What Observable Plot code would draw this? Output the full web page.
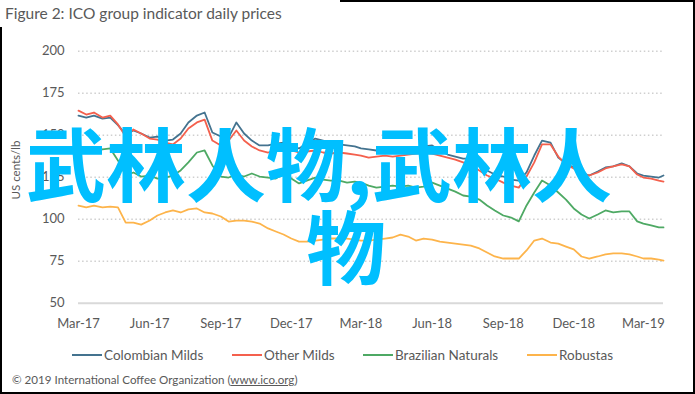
<!DOCTYPE html>
<html>
<head>
<meta charset="utf-8">
<script src="https://cdn.jsdelivr.net/npm/d3@7"></script>
<script src="https://cdn.jsdelivr.net/npm/@observablehq/plot@0.6"></script>
<style>
  html, body { margin: 0; padding: 0; background: #fff; }
  #wrap { position: relative; width: 695px; height: 394px; overflow: hidden; background: #fff; font-family: Lato, "Open Sans", sans-serif; color: #595959; }
  #frame { position: absolute; left: 0; top: 0; width: 695px; height: 394px; border: 2px solid #000; box-sizing: border-box; }
  #title { position: absolute; left: 0; top: 0; width: 340px; height: 27px; background: #fff; font-size: 15.5px; line-height: 27px; padding-left: 5px; box-sizing: border-box; white-space: nowrap; }
  #chart { position: absolute; left: 0; top: 0; }
  #ylabel { position: absolute; left: 15px; top: 170px; transform: translate(-50%, -50%) rotate(-90deg); font-size: 11.5px; white-space: nowrap; }
  .leg { position: absolute; top: 346px; height: 18px; display: flex; align-items: center; font-size: 13.5px; white-space: nowrap; }
  .leg span.sw { display: inline-block; width: 30px; height: 2px; margin-right: 2px; }
  #foot { position: absolute; left: 12px; top: 373px; font-size: 11.6px; white-space: nowrap; }
  #foot u { text-decoration: underline; }
  .wm { position: absolute; font-family: "Noto Sans CJK SC", sans-serif; font-weight: 700; font-size: 80px; line-height: 1; color: #00bfff; white-space: nowrap; }
</style>
</head>
<body>
<div id="wrap">
  <div id="chart"></div>
  <div id="frame"></div>
  <div id="title">Figure 2: ICO group indicator daily prices</div>
  <div id="ylabel">US cents/lb</div>
  <div id="legend"></div>
  <div id="foot">© 2019 International Coffee Organization (<u>www.ico.org</u>)</div>
  <div class="wm" style="left:26px; top:120px;">武林人物,武林人</div>
  <div class="wm" style="left:306px; top:203px;">物</div>
</div>
<script>
const dates = [
  "2017-03-01","2017-03-11","2017-03-21","2017-04-01","2017-04-11","2017-04-21",
  "2017-05-01","2017-05-11","2017-05-21","2017-06-01","2017-06-11","2017-06-21",
  "2017-07-01","2017-07-11","2017-07-21","2017-08-01","2017-08-11","2017-08-21",
  "2017-09-01","2017-09-11","2017-09-21","2017-10-01","2017-10-11","2017-10-21",
  "2017-11-01","2017-11-11","2017-11-21","2017-12-01","2017-12-11","2017-12-21",
  "2018-01-01","2018-01-11","2018-01-21","2018-02-01","2018-02-11","2018-02-21",
  "2018-03-01","2018-03-11","2018-03-21","2018-04-01","2018-04-11","2018-04-21",
  "2018-05-01","2018-05-11","2018-05-21","2018-06-01","2018-06-11","2018-06-21",
  "2018-07-01","2018-07-11","2018-07-21","2018-08-01","2018-08-11","2018-08-21",
  "2018-09-01","2018-09-11","2018-09-21","2018-10-01","2018-10-11","2018-10-21",
  "2018-11-01","2018-11-11","2018-11-21","2018-12-01","2018-12-11","2018-12-21",
  "2019-01-01","2019-01-11","2019-01-21","2019-02-01","2019-02-11","2019-02-21",
  "2019-03-01","2019-03-11","2019-03-21","2019-03-27"
];

const colombianMilds = [161.7,160.5,161.7, 159.9,160.5,156.0, 150.4,152.8,151.0, 148.6,149.2,146.8,
  147.4,151.0,157.6, 161.7,163.5,151.6, 149.2,148.6,157.6, 151.0,146.8,143.9,
  143.9,145.0,145.6, 143.9,142.1,145.0, 148.0,146.8,145.6, 144.5,143.9,143.3,
  142.1,141.5,140.9, 139.7,140.9,141.5, 142.1,142.7,143.3, 143.9,140.9,138.5,
  137.3,136.1,136.1, 133.8,129.0,126.6, 125.4,123.6,123.0, 127.8,137.9,146.8,
  145.6,136.7,133.2, 130.8,127.8,126.0, 128.4,130.8,131.4, 133.2,131.4,127.2,
  126.0,125.4,124.8,126.0];

const otherMilds = [164.6,162.3,163.5, 160.5,161.7,156.4, 149.2,153.4,151.0, 148.0,147.4,145.6,
  144.5,148.0,154.0, 157.6,159.3,146.8, 143.9,146.8,152.8, 146.8,143.3,140.9,
  139.7,140.9,142.1, 140.9,139.7,140.3, 140.9,139.7,139.1, 139.7,139.1,138.5,
  137.9,136.7,137.3, 137.9,137.3,137.9, 138.5,139.1,139.7, 139.1,137.9,136.7,
  135.5,133.8,132.0, 129.0,126.0,124.2, 121.8,120.0,118.8, 125.4,133.8,144.5,
  144.5,137.3,132.6, 130.2,127.2,126.0, 127.8,130.2,131.4, 132.6,131.4,126.6,
  124.8,124.2,123.0,122.4];

const brazilianNaturals = [142.1,140.9,142.7, 141.5,142.1,135.0, 126.0,127.8,125.4, 126.0,124.2,124.8,
  126.0,129.0,133.8, 139.7,140.9,132.0, 125.4,124.8,126.6, 125.4,127.2,125.4,
  124.8,124.2,127.2, 124.2,121.3,123.0, 124.8,123.6,123.0, 123.0,121.8,122.4,
  121.8,120.0,118.8, 119.4,120.0,119.4, 120.0,118.8,119.4, 121.8,120.0,118.2,
  116.4,114.1,113.5, 111.7,108.2,105.2, 102.2,101.0,98.7, 108.2,115.9,123.0,
  120.0,115.9,111.7, 106.4,102.8,100.4, 102.8,105.2,104.0, 104.6,104.6,98.7,
  97.4,96.3,95.1,95.1];

const robustas = [108.1,107.0,108.1, 107.0,107.5,107.0, 98.0,98.0,96.8, 99.2,102.2,104.0,
  105.2,104.0,105.8, 106.4,104.0,103.4, 101.6,98.6,99.2, 99.2,98.6,97.4,
  94.5,92.7,90.9, 88.5,86.7,86.7, 87.3,87.9,88.5, 88.5,88.5,87.9,
  87.3,87.3,87.9, 88.5,89.1,90.8, 89.7,87.3,88.5, 87.9,86.7,86.1,
  85.5,84.9,84.3, 82.6,80.2,77.8, 76.6,76.6,76.6, 81.4,87.3,88.5,
  86.1,85.5,83.7, 82.0,77.8,76.6, 77.8,79.0,79.6, 79.6,79.0,77.8,
  76.6,76.6,76.0,75.4];

const seriesNames = ["Colombian Milds", "Other Milds", "Brazilian Naturals", "Robustas"];
const seriesColors = ["#44738f", "#f4604d", "#4ea964", "#fdb44b"];
const seriesValues = [colombianMilds, otherMilds, brazilianNaturals, robustas];

const xTicks = ["2017-03-01","2017-06-01","2017-09-01","2017-12-01","2018-03-01",
  "2018-06-01","2018-09-01","2018-12-01","2019-03-01"];
const yTicks = [50, 75, 100, 125, 150, 175, 200];
const yGrid = [75, 100, 125, 150, 175, 200];

const parse = d3.utcParse("%Y-%m-%d");

const marks = [
  Plot.ruleY(yGrid, {stroke: "#cfcfcf", strokeWidth: 1.5, strokeDasharray: "1.5,2.6"}),
  Plot.ruleY([50], {stroke: "#d9d9d9", strokeWidth: 2}),
  Plot.axisX({ticks: xTicks.map(parse), tickFormat: d3.utcFormat("%b-%y"), tickSize: 0, tickPadding: 16, fontSize: 13, fill: "#595959"}),
  Plot.axisY({ticks: yTicks, tickSize: 0, tickPadding: 14, fontSize: 13, fill: "#595959"})
];
seriesNames.forEach((name, s) => {
  const rows = dates.map((d, i) => ({date: parse(d), value: seriesValues[s][i]}));
  marks.push(Plot.lineY(rows, {x: "date", y: "value", stroke: seriesColors[s], strokeWidth: 1.8}));
});

const chart = Plot.plot({
  width: 695,
  height: 340,
  marginLeft: 78,
  marginRight: 32,
  marginTop: 50.7,
  marginBottom: 37.3,
  style: {fontFamily: "Lato, sans-serif", fontSize: "13px", color: "#595959", background: "transparent"},
  x: {type: "utc", domain: [parse(dates[0]), parse(dates[dates.length - 1])], label: null},
  y: {domain: [50, 200], label: null},
  marks
});
document.getElementById("chart").appendChild(chart);

const legendX = [72, 232, 363, 527];
const legend = document.getElementById("legend");
seriesNames.forEach((name, s) => {
  const el = document.createElement("div");
  el.className = "leg";
  el.style.left = legendX[s] + "px";
  el.innerHTML = `<span class="sw" style="background:${seriesColors[s]}"></span><span>${name}</span>`;
  legend.appendChild(el);
});
</script>
</body>
</html>
